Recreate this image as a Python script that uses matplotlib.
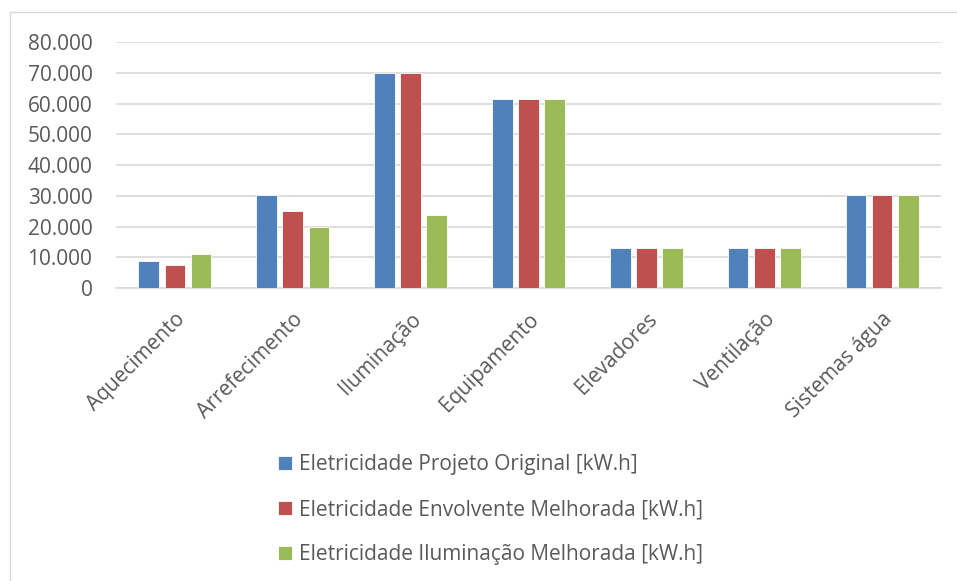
import numpy as np
import matplotlib
matplotlib.use('Agg')
import matplotlib.pyplot as plt
from matplotlib.patches import Rectangle
from matplotlib.ticker import FuncFormatter

categories = ['Aquecimento', 'Arrefecimento', 'Iluminação', 'Equipamento',
              'Elevadores', 'Ventilação', 'Sistemas água']
projeto_original = [8700, 30200, 69800, 61500, 13100, 12900, 30200]
envolvente_melhorada = [7600, 25000, 69800, 61500, 13100, 12900, 30200]
iluminacao_melhorada = [11200, 19900, 23600, 61500, 13100, 12900, 30200]
series_names = ['Eletricidade Projeto Original [kW.h]',
                'Eletricidade Envolvente Melhorada [kW.h]',
                'Eletricidade Iluminação Melhorada [kW.h]']
colors = ['#4F81BD', '#C0504D', '#9BBB59']

plt.rcParams['font.family'] = ['Open Sans', 'DejaVu Sans']
text_color = '#595959'

fig = plt.figure(figsize=(9.57, 5.81), dpi=100)
ax = fig.add_axes([0.1212, 0.5043, 0.8621, 0.4234])

# outer chart border
fig.patches.append(Rectangle((10 / 957, -0.01), 1.0, 1 - 12 / 581 + 0.01,
                             transform=fig.transFigure, fill=False,
                             edgecolor='#d9d9d9', linewidth=1))

x = np.arange(len(categories))
width = 0.175
pitch = 0.222
data = [projeto_original, envolvente_melhorada, iluminacao_melhorada]
for i, (vals, name, c) in enumerate(zip(data, series_names, colors)):
    ax.bar(x + (i - 1) * pitch, vals, width, color=c, label=name,
           edgecolor='white', linewidth=0.6, zorder=3)

ax.set_xlim(-0.5, len(categories) - 0.5)
ax.set_ylim(0, 80000)
ax.set_yticks(np.arange(0, 80001, 10000))
ax.yaxis.set_major_formatter(FuncFormatter(lambda v, p: f'{int(v):,}'.replace(',', '.')))
ax.grid(axis='y', color='#d9d9d9', linewidth=1.2, zorder=0)
for s in ['top', 'right', 'left']:
    ax.spines[s].set_visible(False)
ax.spines['bottom'].set_color('#d9d9d9')
ax.spines['bottom'].set_linewidth(1.2)
ax.tick_params(axis='both', length=0, labelsize=15, colors=text_color)
ax.tick_params(axis='y', pad=17)
ax.set_xticks(x)
ax.set_xticklabels(categories, rotation=45, ha='right', rotation_mode='anchor')
ax.tick_params(axis='x', pad=15)

fig.legend(loc='upper left', bbox_to_anchor=(270 / 957, 1 - 446 / 581),
           frameon=False, fontsize=15, labelcolor=text_color,
           handlelength=0.67, handleheight=0.67, handletextpad=0.3,
           labelspacing=1.15, borderaxespad=0)

fig.savefig('out.png', dpi=100)
